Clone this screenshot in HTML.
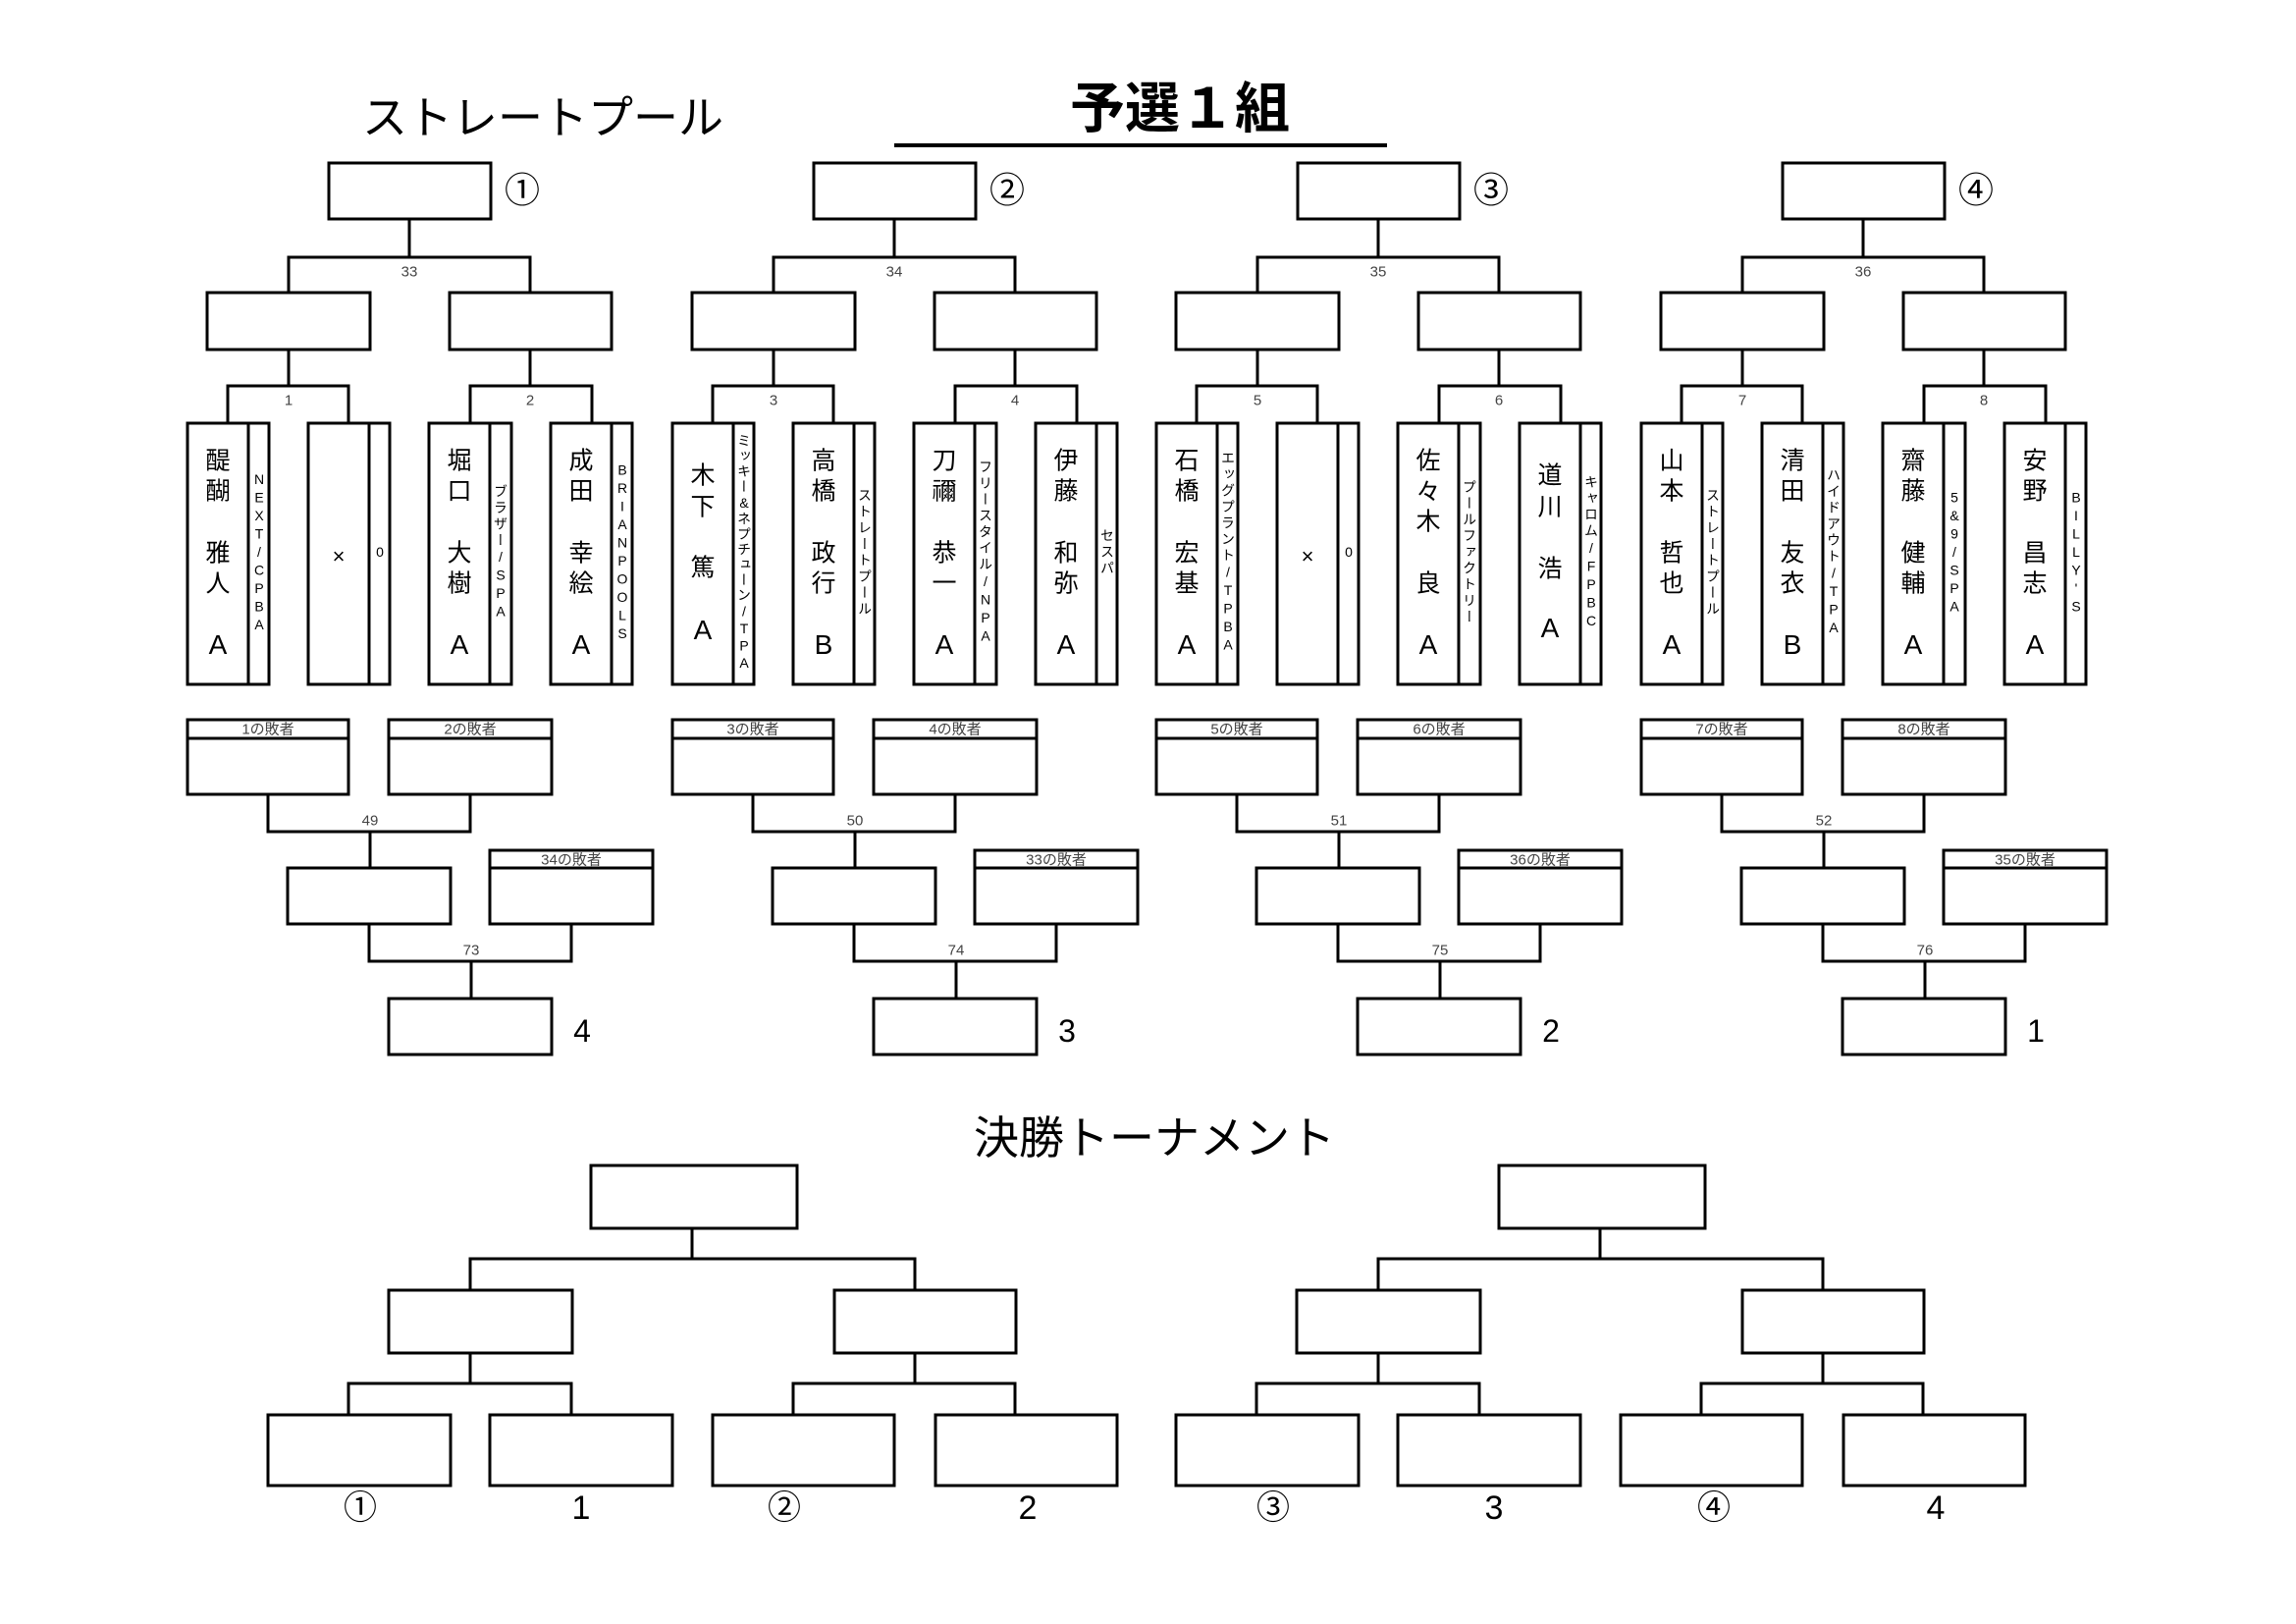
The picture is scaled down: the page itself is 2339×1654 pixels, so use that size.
<!DOCTYPE html>
<html><head><meta charset="utf-8">
<style>
html,body{margin:0;padding:0;background:#fff;}
#pg{position:relative;width:2339px;height:1654px;overflow:hidden;background:#fff;font-family:"Liberation Sans","Noto Sans CJK JP",sans-serif;color:#000;}
svg{position:absolute;left:0;top:0;}
.t{position:absolute;transform:translate(-50%,-50%);white-space:nowrap;line-height:1;}
.n{position:absolute;transform:translate(-50%,-50%);line-height:1;font-size:25px;font-family:"Liberation Sans","Noto Sans CJK JP",sans-serif;}
.c{font-size:28px;}
.af{position:absolute;top:563px;transform:translate(-50%,-50%);writing-mode:vertical-rl;text-orientation:upright;font-size:14px;letter-spacing:2.5px;line-height:1;white-space:nowrap;}
.sm{font-size:15px;color:#444;}
.cir{font-size:36px;}
.fn{font-size:32px;}
.lb{font-size:34px;}
</style></head><body><div id="pg">
<svg width="2339" height="1654" viewBox="0 0 2339 1654">
<defs>
<g id="grp" fill="none" stroke="#000" stroke-width="3">
<rect x="335" y="166" width="165" height="57"/>
<line x1="417" y1="223" x2="417" y2="262"/>
<polyline points="294,298 294,262 540,262 540,298"/>
<rect x="211" y="298" width="166" height="58"/>
<rect x="458" y="298" width="165" height="58"/>
<line x1="294" y1="356" x2="294" y2="393"/>
<polyline points="232,431 232,393 355,393 355,431"/>
<line x1="540" y1="356" x2="540" y2="393"/>
<polyline points="479,431 479,393 603,393 603,431"/>
<rect x="191" y="431" width="83" height="266"/><line x1="253" y1="431" x2="253" y2="697"/>
<rect x="314" y="431" width="83" height="266"/><line x1="376" y1="431" x2="376" y2="697"/>
<rect x="437" y="431" width="84" height="266"/><line x1="499" y1="431" x2="499" y2="697"/>
<rect x="561" y="431" width="83" height="266"/><line x1="623" y1="431" x2="623" y2="697"/>
<rect x="191" y="733" width="164" height="76"/><line x1="191" y1="752" x2="355" y2="752"/>
<rect x="396" y="733" width="166" height="76"/><line x1="396" y1="752" x2="562" y2="752"/>
<polyline points="273,809 273,847 479,847 479,809"/>
<line x1="377" y1="847" x2="377" y2="884"/>
<rect x="293" y="884" width="166" height="57"/>
<rect x="499" y="866" width="166" height="75"/><line x1="499" y1="884" x2="665" y2="884"/>
<polyline points="376,941 376,979 582,979 582,941"/>
<line x1="480" y1="979" x2="480" y2="1017"/>
<rect x="396" y="1017" width="166" height="57"/>
</g>
<g id="fin" fill="none" stroke="#000" stroke-width="3">
<rect x="602" y="1187" width="210" height="64"/>
<line x1="705" y1="1251" x2="705" y2="1282"/>
<polyline points="479,1314 479,1282 932,1282 932,1314"/>
<rect x="396" y="1314" width="187" height="64"/>
<rect x="850" y="1314" width="185" height="64"/>
<line x1="479" y1="1378" x2="479" y2="1409"/>
<polyline points="355,1441 355,1409 582,1409 582,1441"/>
<line x1="932" y1="1378" x2="932" y2="1409"/>
<polyline points="808,1441 808,1409 1034,1409 1034,1441"/>
<rect x="273" y="1441" width="186" height="72"/>
<rect x="499" y="1441" width="186" height="72"/>
<rect x="726" y="1441" width="185" height="72"/>
<rect x="953" y="1441" width="185" height="72"/>
</g>
</defs>
<use href="#grp" transform="translate(0,0)"/>
<use href="#grp" transform="translate(494,0)"/>
<use href="#grp" transform="translate(987,0)"/>
<use href="#grp" transform="translate(1481,0)"/>
<use href="#fin" transform="translate(0,0)"/>
<use href="#fin" transform="translate(925,0)"/>
<line x1="911" y1="148" x2="1413" y2="148" stroke="#000" stroke-width="4"/>
</svg>

<div class="t" style="left:553px;top:120px;font-size:46px;">ストレートプール</div>
<div class="t" style="left:1202px;top:111px;font-size:56px;font-weight:bold;">予選１組</div>
<div class="t" style="left:1176px;top:1159px;font-size:46px;">決勝トーナメント</div>

<!-- group 1 -->
<div class="t cir" style="left:532px;top:194px;">①</div>
<div class="t sm" style="left:417px;top:277px;">33</div>
<div class="t sm" style="left:294px;top:408px;">1</div>
<div class="t sm" style="left:540px;top:408px;">2</div>
<div class="t sm" style="left:273px;top:743px;">1の敗者</div>
<div class="t sm" style="left:479px;top:743px;">2の敗者</div>
<div class="t sm" style="left:377px;top:836px;">49</div>
<div class="t sm" style="left:582px;top:876px;">34の敗者</div>
<div class="t sm" style="left:480px;top:968px;">73</div>
<div class="t fn" style="left:593px;top:1050px;">4</div>
<!-- group 2 -->
<div class="t cir" style="left:1026px;top:194px;">②</div>
<div class="t sm" style="left:911px;top:277px;">34</div>
<div class="t sm" style="left:788px;top:408px;">3</div>
<div class="t sm" style="left:1034px;top:408px;">4</div>
<div class="t sm" style="left:767px;top:743px;">3の敗者</div>
<div class="t sm" style="left:973px;top:743px;">4の敗者</div>
<div class="t sm" style="left:871px;top:836px;">50</div>
<div class="t sm" style="left:1076px;top:876px;">33の敗者</div>
<div class="t sm" style="left:974px;top:968px;">74</div>
<div class="t fn" style="left:1087px;top:1050px;">3</div>
<!-- group 3 -->
<div class="t cir" style="left:1519px;top:194px;">③</div>
<div class="t sm" style="left:1404px;top:277px;">35</div>
<div class="t sm" style="left:1281px;top:408px;">5</div>
<div class="t sm" style="left:1527px;top:408px;">6</div>
<div class="t sm" style="left:1260px;top:743px;">5の敗者</div>
<div class="t sm" style="left:1466px;top:743px;">6の敗者</div>
<div class="t sm" style="left:1364px;top:836px;">51</div>
<div class="t sm" style="left:1569px;top:876px;">36の敗者</div>
<div class="t sm" style="left:1467px;top:968px;">75</div>
<div class="t fn" style="left:1580px;top:1050px;">2</div>
<!-- group 4 -->
<div class="t cir" style="left:2013px;top:194px;">④</div>
<div class="t sm" style="left:1898px;top:277px;">36</div>
<div class="t sm" style="left:1775px;top:408px;">7</div>
<div class="t sm" style="left:2021px;top:408px;">8</div>
<div class="t sm" style="left:1754px;top:743px;">7の敗者</div>
<div class="t sm" style="left:1960px;top:743px;">8の敗者</div>
<div class="t sm" style="left:1858px;top:836px;">52</div>
<div class="t sm" style="left:2063px;top:876px;">35の敗者</div>
<div class="t sm" style="left:1961px;top:968px;">76</div>
<div class="t fn" style="left:2074px;top:1050px;">1</div>

<!-- players group 1 -->
<div class="n" style="left:222px;top:470px;">醍</div><div class="n" style="left:222px;top:501px;">醐</div><div class="n" style="left:222px;top:564px;">雅</div><div class="n" style="left:222px;top:595px;">人</div><div class="n c" style="left:222px;top:657px;">A</div>
<div class="af" style="left:264px;">NEXT/CPBA</div>
<div class="n" style="left:345px;top:567px;font-size:22px;">×</div>
<div class="af" style="left:387px;">0</div>
<div class="n" style="left:468px;top:470px;">堀</div><div class="n" style="left:468px;top:501px;">口</div><div class="n" style="left:468px;top:564px;">大</div><div class="n" style="left:468px;top:595px;">樹</div><div class="n c" style="left:468px;top:657px;">A</div>
<div class="af" style="left:510px;">ブラザー/SPA</div>
<div class="n" style="left:592px;top:470px;">成</div><div class="n" style="left:592px;top:501px;">田</div><div class="n" style="left:592px;top:564px;">幸</div><div class="n" style="left:592px;top:595px;">絵</div><div class="n c" style="left:592px;top:657px;">A</div>
<div class="af" style="left:634px;">BRIANPOOLS</div>

<!-- players group 2 (+494) -->
<div class="n" style="left:716px;top:485px;">木</div><div class="n" style="left:716px;top:517px;">下</div><div class="n" style="left:716px;top:579px;">篤</div><div class="n c" style="left:716px;top:642px;">A</div>
<div class="af" style="left:758px;letter-spacing:1.5px;">ミッキー&amp;ネプチューン/TPA</div>
<div class="n" style="left:839px;top:470px;">高</div><div class="n" style="left:839px;top:501px;">橋</div><div class="n" style="left:839px;top:564px;">政</div><div class="n" style="left:839px;top:595px;">行</div><div class="n c" style="left:839px;top:657px;">B</div>
<div class="af" style="left:881px;">ストレートプール</div>
<div class="n" style="left:962px;top:470px;">刀</div><div class="n" style="left:962px;top:501px;">禰</div><div class="n" style="left:962px;top:564px;">恭</div><div class="n" style="left:962px;top:595px;">一</div><div class="n c" style="left:962px;top:657px;">A</div>
<div class="af" style="left:1004px;">フリースタイル/NPA</div>
<div class="n" style="left:1086px;top:470px;">伊</div><div class="n" style="left:1086px;top:501px;">藤</div><div class="n" style="left:1086px;top:564px;">和</div><div class="n" style="left:1086px;top:595px;">弥</div><div class="n c" style="left:1086px;top:657px;">A</div>
<div class="af" style="left:1128px;">セスパ</div>

<!-- players group 3 (+987) -->
<div class="n" style="left:1209px;top:470px;">石</div><div class="n" style="left:1209px;top:501px;">橋</div><div class="n" style="left:1209px;top:564px;">宏</div><div class="n" style="left:1209px;top:595px;">基</div><div class="n c" style="left:1209px;top:657px;">A</div>
<div class="af" style="left:1251px;">エッグプラント/TPBA</div>
<div class="n" style="left:1332px;top:567px;font-size:22px;">×</div>
<div class="af" style="left:1374px;">0</div>
<div class="n" style="left:1455px;top:470px;">佐</div><div class="n" style="left:1455px;top:502px;">々</div><div class="n" style="left:1455px;top:532px;">木</div><div class="n" style="left:1455px;top:595px;">良</div><div class="n c" style="left:1455px;top:657px;">A</div>
<div class="af" style="left:1497px;">プールファクトリー</div>
<div class="n" style="left:1579px;top:485px;">道</div><div class="n" style="left:1579px;top:517px;">川</div><div class="n" style="left:1579px;top:580px;">浩</div><div class="n c" style="left:1579px;top:640px;">A</div>
<div class="af" style="left:1621px;">キャロム/FPBC</div>

<!-- players group 4 (+1481) -->
<div class="n" style="left:1703px;top:470px;">山</div><div class="n" style="left:1703px;top:501px;">本</div><div class="n" style="left:1703px;top:564px;">哲</div><div class="n" style="left:1703px;top:595px;">也</div><div class="n c" style="left:1703px;top:657px;">A</div>
<div class="af" style="left:1745px;">ストレートプール</div>
<div class="n" style="left:1826px;top:470px;">清</div><div class="n" style="left:1826px;top:501px;">田</div><div class="n" style="left:1826px;top:564px;">友</div><div class="n" style="left:1826px;top:595px;">衣</div><div class="n c" style="left:1826px;top:657px;">B</div>
<div class="af" style="left:1868px;">ハイドアウト/TPA</div>
<div class="n" style="left:1949px;top:470px;">齋</div><div class="n" style="left:1949px;top:501px;">藤</div><div class="n" style="left:1949px;top:564px;">健</div><div class="n" style="left:1949px;top:595px;">輔</div><div class="n c" style="left:1949px;top:657px;">A</div>
<div class="af" style="left:1991px;">5&amp;9/SPA</div>
<div class="n" style="left:2073px;top:470px;">安</div><div class="n" style="left:2073px;top:501px;">野</div><div class="n" style="left:2073px;top:564px;">昌</div><div class="n" style="left:2073px;top:595px;">志</div><div class="n c" style="left:2073px;top:657px;">A</div>
<div class="af" style="left:2115px;">BILLY'S</div>

<!-- finals labels -->
<div class="t lb" style="left:367px;top:1536px;">①</div>
<div class="t lb" style="left:592px;top:1536px;">1</div>
<div class="t lb" style="left:799px;top:1536px;">②</div>
<div class="t lb" style="left:1047px;top:1536px;">2</div>
<div class="t lb" style="left:1297px;top:1536px;">③</div>
<div class="t lb" style="left:1522px;top:1536px;">3</div>
<div class="t lb" style="left:1746px;top:1536px;">④</div>
<div class="t lb" style="left:1972px;top:1536px;">4</div>
</div></body></html>
